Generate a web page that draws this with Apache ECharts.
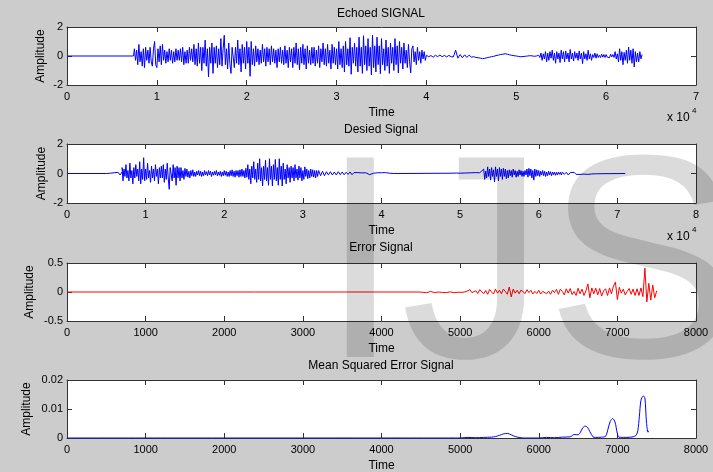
<!DOCTYPE html>
<html>
<head>
<meta charset="utf-8">
<script src="https://cdn.jsdelivr.net/npm/echarts@6/dist/echarts.min.js"></script>
<style>
html, body { margin: 0; padding: 0; background: #cccccc; }
#chart { width: 713px; height: 472px; }
</style>
</head>
<body>
<div id="chart"></div>
<script>
const FONT = 'Liberation Sans';

// TITLES
const titles = ['Echoed SIGNAL', 'Desied Signal', 'Error Signal', 'Mean Squared Error Signal'];

// ECHOED SIGNAL (time in 10^4 samples)
const echoLeadTime = [0, 0.74];
const echoLeadValue = [0, 0];
// loud part 0.75 .. 3.9875, step 0.0125
const echoLoud = [
    0.5, -0.3, 0.4, -0.6, 0.8, -0.4, 0.3, -0.7, 0.5, -0.8, 0.6, -0.3, 0.4, -0.5, 0.6, -0.4, -0.7, 0.5, 1.0, -0.6,
    -0.8, 0.5, -0.4, 0.7, -0.6, 0.8, -0.3, 0.4, -0.5, 0.3, -0.4, 0.5, -0.3, 0.4, -0.5, 0.3, -0.4, 0.5, -0.3, 0.4,
    -0.3, 0.5, -0.4, 0.6, -0.6, 0.3, -0.5, 0.4, -0.5, 0.6, -0.3, 0.5, -0.4, 0.8, -0.6, 0.5, -0.7, 0.9, -0.5, 0.6,
    -1.0, 0.6, -0.5, 1.1, -0.7, 0.5, -1.45, 0.6, -0.5, 0.9, -1.2, 0.6, -0.5, 0.7, -0.8, 0.5, -0.6, 1.2, -0.7, 0.5,
    1.43, -0.6, 0.5, -0.9, 0.9, -0.5, -1.2, 0.6, 0.5, -0.8, 0.6, -0.5, 1.1, -0.6, 0.5, -1.1, 0.8, -0.5, 0.6, -0.9,
    1.0, -0.5, 0.6, -1.4, 1.0, -0.6, 0.5, -0.7, 0.7, -0.4, 0.5, -0.6, 0.4, -0.5, 0.8, -0.4, 0.5, -0.7, 0.6, -0.4,
    0.5, -0.6, 0.7, -0.4, 0.5, -0.5, 0.4, -0.8, 0.5, -0.4, 0.6, -0.5, 0.4, -0.6, 0.7, -0.5, 0.4, -0.8, 0.6, -0.4,
    0.5, -0.8, 0.6, -0.5, 0.9, -0.6, 0.5, -0.95, 0.6, -0.5, 0.8, -0.6, 0.5, -0.9, 0.7, -0.5, 0.4, -0.6, 0.6, -0.5,
    0.6, -0.7, 0.4, -0.5, 0.7, -0.8, 0.5, -0.4, 0.9, -0.6, 0.5, -0.7, 0.8, -0.5, 0.4, -0.9, 0.8, -0.5, 0.6, -0.6,
    0.5, -0.9, 1.0, -0.6, 0.5, -0.8, 0.7, -1.1, 1.0, -0.6, 0.5, -0.7, 1.26, -1.26, 0.6, -0.5, 0.9, -0.7, 0.6, -1.1,
    1.3, -0.7, 0.6, -1.2, 1.4, -0.6, 0.7, -1.0, 1.2, -0.7, 0.6, -1.3, 1.43, -0.8, 0.7, -1.1, 1.3, -0.6, 0.7, -1.22,
    1.2, -0.6, 0.5, -1.0, 1.1, -0.7, 0.6, -1.2, 0.9, -0.5, 0.6, -1.0, 1.2, -0.6, 0.7, -1.17, 1.0, -0.5, 0.6, -0.9,
    0.9, -0.5, 0.4, -0.8, 0.8, -0.4, -1.17, 0.5, 0.7, -0.4, 0.3, -0.6, 0.6, -0.3, 0.3, -0.5, 0.4, -0.2, 0.3, -0.3
];
// quiet part 4.0 .. 5.225, step 0.025
const echoQuiet = [
    0.05, -0.05, 0.03, -0.08, 0.05, -0.04, 0.06, -0.05, 0.04, -0.06,
    0.04, -0.05, -0.06, 0.4, -0.15, 0.1, -0.12, 0.08, -0.1, 0.06,
    -0.08, -0.05, -0.1, -0.12, -0.15, -0.18, -0.16, -0.12, -0.08, -0.05,
    -0.02, 0.03, 0.06, 0.1, 0.12, 0.16, 0.12, 0.08, 0.05, 0.02,
    0.0, -0.03, -0.05, -0.04, -0.02, 0.0, 0.02, 0.01, -0.02, 0.0
];
// late bursts 5.25 .. 6.4, step 0.0125
const echoLate = [
    0.05, -0.1, 0.2, -0.3, 0.15, -0.2, 0.3, -0.4, 0.2, -0.3, 0.3, -0.15, 0.4, -0.3, 0.2, -0.5, 0.3, -0.2, 0.2, -0.45,
    0.4, -0.2, 0.3, -0.4, 0.35, -0.2, 0.2, -0.4, 0.45, -0.2, 0.2, -0.35, 0.3, -0.15, 0.2, -0.3, 0.35, -0.2, 0.2, -0.53,
    0.3, -0.2, 0.15, -0.3, 0.4, -0.2, 0.15, -0.3, 0.1, -0.1, 0.2, -0.15, 0.15, -0.1, 0.05, -0.1, 0.12, -0.08, 0.1, -0.1,
    0.1, -0.08, 0.05, -0.12, 0.12, -0.06, 0.1, -0.1, 0.3, -0.2, 0.15, -0.4, 0.5, -0.3, 0.3, -0.6, 0.25, -0.3, 0.4, -0.5,
    0.62, -0.3, 0.4, -0.5, 0.5, -0.76, 0.3, -0.4, 0.2, -0.4, 0.3, -0.2, 0.1
];

// DESIRED SIGNAL (time in 10^4 samples)
const desiredOnset = [0.5, -0.03, 0.02, -0.03, 0.05, -0.05, 0.08, -0.1, 0.1, -0.12];  // first entry is the start time (step 0.025)
const desiredLoud = [  // 0.7 .. 3.1875, step 0.0125
    0.4, -0.5, 0.3, -0.2, 0.6, -0.3, 0.2, -0.5, 0.7, -0.3, 0.2, -0.7, 0.4, -0.3, 0.6, -0.2, 0.3, -0.5, 0.8, -0.7,
    0.3, -0.4, 1.07, -0.5, 0.3, -0.4, 0.7, -0.3, 0.2, -0.6, 0.5, -0.3, 0.3, -0.5, 0.6, -0.2, 0.3, -0.7, 0.4, -0.3,
    0.5, -0.3, 0.6, -0.6, 0.3, -0.4, 0.7, -0.3, -1.07, 0.4, 0.3, -0.5, 0.6, -0.3, 0.4, -0.8, 0.5, -0.3, 0.4, -0.5,
    0.4, -0.3, 0.2, -0.4, 0.35, -0.2, 0.3, -0.25, 0.15, -0.3, 0.2, -0.15, 0.25, -0.2, 0.1, -0.2, 0.15, -0.1, 0.2, -0.15,
    0.15, -0.2, 0.1, -0.15, 0.2, -0.1, 0.12, -0.15, 0.2, -0.1, 0.15, -0.2, 0.1, -0.12, 0.15, -0.1, 0.2, -0.15, 0.1, -0.12,
    0.15, -0.2, 0.1, -0.15, 0.2, -0.12, 0.15, -0.2, 0.1, -0.2, 0.2, -0.15, 0.25, -0.2, 0.15, -0.25, 0.2, -0.15, 0.2, -0.25,
    0.25, -0.2, 0.3, -0.2, 0.2, -0.3, 0.35, -0.25, 0.6, -0.4, 0.3, -0.7, 0.5, -0.3, 0.8, -0.4, 0.3, -0.6, 0.7, -0.4,
    1.0, -0.5, 0.4, -0.85, 0.5, -0.4, 0.9, -0.5, 0.4, -0.8, 1.0, -0.4, 0.5, -0.85, 0.6, -0.4, 0.95, -0.5, 0.4, -0.8,
    1.0, -0.4, 0.5, -0.85, 0.7, -0.4, 0.3, -0.7, 0.6, -0.3, 0.4, -0.6, 0.5, -0.3, 0.4, -0.5, 0.6, -0.3, 0.3, -0.45,
    0.5, -0.3, 0.4, -0.5, 0.2, -0.4, 0.45, -0.2, 0.3, -0.35, 0.2, -0.3, 0.3, -0.2, 0.25, -0.25, 0.2, -0.3, 0.2, -0.2
];
const desiredTail = [  // 3.2 .. 4.225, step 0.025
    0.2, -0.15, 0.15, -0.15, 0.12, -0.1, 0.12, -0.1, 0.1, -0.1,
    0.12, -0.08, 0.1, -0.08, 0.08, -0.06, 0.1, -0.08, 0.06, -0.05,
    0.06, -0.05, 0.04, -0.04, 0.05, -0.06, -0.08, -0.04, 0.02, 0.04,
    0.05, 0.03, 0.05, 0.04, 0.06, 0.04, 0.02, 0.0, 0.0, 0.0,
    0.0, 0.0
];
const desiredQuietB = [  // 4.9 .. 5.275, step 0.025
    0.02, -0.02, 0.03, -0.03, 0.02, -0.04, 0.03, -0.05, 0.04, -0.03, 0.05, -0.04, 0.06, -0.05, 0.05, -0.06
];
const desiredBurstB = [  // 5.3 .. 6.2875, step 0.0125
    0.3, -0.4, 0.15, -0.3, 0.45, -0.2, 0.3, -0.45, 0.4, -0.2, 0.25, -0.57, 0.45, -0.2, 0.3, -0.5, 0.4, -0.2, 0.3, -0.4,
    0.35, -0.2, 0.3, -0.35, 0.2, -0.3, 0.25, -0.15, 0.2, -0.25, 0.3, -0.1, 0.2, -0.25, 0.15, -0.2, 0.25, -0.1, 0.2, -0.2,
    0.15, -0.2, 0.2, -0.1, 0.3, -0.25, 0.35, -0.15, 0.3, -0.3, 0.2, -0.45, 0.3, -0.2, 0.25, -0.15, 0.2, -0.2, 0.15, -0.1,
    0.2, -0.15, 0.15, -0.2, 0.1, -0.15, 0.15, -0.1, 0.12, -0.15, 0.1, -0.08, 0.1, -0.12, 0.08, -0.1, 0.1, -0.06, 0.08, -0.1
];
const desiredTailB = [  // 6.3 .. 6.75, step 0.025
    0.1, -0.06, 0.08, -0.1, 0.06, -0.05, 0.08, -0.06, 0.05, -0.06, 0.06, -0.04, 0.05, -0.06, 0.04, -0.03, 0.03, -0.02, 0.0
];
const desiredEndTime = 7.1;

// ERROR SIGNAL
const errorQuietTime = [0, 2070, 2080, 2090, 2370, 2380, 2390, 2400, 3170, 3180, 3190, 4475];
const errorQuietValue = [0, 0, 0.012, 0, 0, 0.01, -0.005, 0, 0, -0.008, 0, 0];
const errorStart = 4500;
const errorStep = 25;
const errorValues = [
    0.01, -0.005, 0.002, -0.012, 0.006, 0.01, -0.004, -0.01, 0.008, 0.0,
    0.01, -0.008, 0.004, -0.01, 0.012, 0.002, -0.01, -0.012, 0.015, -0.004,
    0.012, -0.006, 0.02, 0.005, -0.015, 0.04, -0.01, -0.03, 0.02, -0.025,
    0.04, 0.01, -0.03, 0.025, -0.04, 0.045, 0.0, -0.035, 0.05, -0.02,
    0.03, -0.03, 0.05, 0.01, -0.04, 0.086, -0.086, 0.05, -0.02, 0.03,
    -0.03, 0.035, 0.005, -0.025, 0.04, -0.01, 0.03, -0.035, 0.01, -0.025,
    0.03, -0.035, 0.01, 0.04, -0.03, 0.015, -0.04, 0.03, -0.01, 0.045,
    -0.04, 0.05, 0.01, -0.05, 0.055, -0.02, 0.06, -0.045, 0.01, -0.06,
    0.065, -0.03, 0.05, -0.06, 0.02, 0.14, -0.1, 0.07, -0.03, 0.065,
    -0.05, 0.06, -0.07, 0.02, 0.055, -0.06, 0.07, -0.03, 0.1, 0.17,
    -0.13, 0.08, -0.02, 0.05, -0.05, 0.01, 0.06, -0.04, 0.05, -0.06,
    0.055, -0.06, 0.07, -0.08, 0.41, -0.17, 0.15, -0.14, 0.12, -0.1,
    0.02
];

// MEAN SQUARED ERROR
const mseTime = [0, 5000, 5100, 5200, 5300, 5400, 5450, 5500, 5550, 5600, 5650, 5700, 5750, 5800,
    6000, 6100, 6200, 6300, 6400, 6450, 6500, 6530, 6560, 6590, 6620, 6650, 6690, 6720,
    6800, 6850, 6880, 6910, 6940, 6970, 7000, 7020, 7100, 7200, 7240, 7260, 7280, 7300,
    7330, 7350, 7370, 7390, 7400];
const mseValue = [0, 0, 0.0002, 0.0001, 0.0002, 0.0003, 0.0005, 0.0009, 0.0014, 0.0016, 0.0011, 0.0005, 0.0002, 0,
    0, 0.0002, 0.0001, 0.0003, 0.0004, 0.0012, 0.0011, 0.002, 0.0035, 0.0041, 0.0037, 0.0022, 0.0004, 0.0002,
    0.0003, 0.0006, 0.003, 0.0058, 0.0067, 0.0055, 0.0015, 0.0003, 0.0002, 0.0004, 0.001, 0.0025, 0.0075, 0.013,
    0.0145, 0.0138, 0.0055, 0.002, 0.0025];

function wave(start, step, values) {
    return values.map((v, i) => [start + i * step, v]);
}
function pairs(xs, ys) {
    return xs.map((x, i) => [x, ys[i]]);
}

const echoData = pairs(echoLeadTime, echoLeadValue)
    .concat(wave(0.75, 0.0125, echoLoud))
    .concat(wave(4.0, 0.025, echoQuiet))
    .concat(wave(5.25, 0.0125, echoLate));
const desiredData = [[0, 0], [desiredOnset[0], 0]]
    .concat(wave(0.525, 0.025, desiredOnset.slice(1)))
    .concat(wave(0.7, 0.0125, desiredLoud))
    .concat(wave(3.2, 0.025, desiredTail))
    .concat(wave(4.9, 0.025, desiredQuietB))
    .concat(wave(5.3, 0.0125, desiredBurstB))
    .concat(wave(6.3, 0.025, desiredTailB))
    .concat([[desiredEndTime, 0]]);
const errorData = pairs(errorQuietTime, errorQuietValue)
    .concat(wave(errorStart, errorStep, errorValues));
const mseData = pairs(mseTime, mseValue);

// PANEL LAYOUT
const panels = [
    { top: 27, height: 58, xMax: 7, xInt: 1, yMin: -2, yMax: 2, yInt: 2, nameGap: 20, data: echoData, color: '#0000ff' },
    { top: 144, height: 59, xMax: 8, xInt: 1, yMin: -2, yMax: 2, yInt: 2, nameGap: 19, data: desiredData, color: '#0000ff' },
    { top: 263, height: 58, xMax: 8000, xInt: 1000, yMin: -0.5, yMax: 0.5, yInt: 0.5, nameGap: 31, data: errorData, color: '#ff0000' },
    { top: 380, height: 58, xMax: 8000, xInt: 1000, yMin: 0, yMax: 0.02, yInt: 0.01, nameGap: 34, data: mseData, color: '#0000ff', smooth: 0.3 }
];
const titleTops = [8, 124, 242, 360];

const axisColor = '#333333';
const labelStyle = { color: '#000', fontSize: 11, fontFamily: FONT };

const grid = [];
const xAxis = [];
const yAxis = [];
const series = [];

panels.forEach((p, i) => {
    grid.push({
        left: 67, top: p.top, width: 629, height: p.height,
        show: true, backgroundColor: '#ffffff', borderWidth: 0,
        outerBoundsMode: 'none'
    });
    ['bottom', 'top'].forEach(pos => {
        xAxis.push({
            type: 'value', gridIndex: i, position: pos,
            min: 0, max: p.xMax, interval: p.xInt,
            name: pos === 'bottom' ? 'Time' : '',
            nameLocation: 'middle', nameGap: 22, nameMoveOverlap: false,
            nameTextStyle: { color: '#000', fontSize: 12, fontFamily: FONT },
            axisLine: { onZero: false, lineStyle: { color: axisColor, width: 1 } },
            axisTick: { inside: true, length: 5, lineStyle: { color: axisColor } },
            axisLabel: Object.assign({ show: pos === 'bottom', margin: 6, formatter: v => String(v) }, labelStyle),
            splitLine: { show: false }
        });
    });
    ['left', 'right'].forEach(pos => {
        yAxis.push({
            type: 'value', gridIndex: i, position: pos,
            min: p.yMin, max: p.yMax, interval: p.yInt,
            name: pos === 'left' ? 'Amplitude' : '',
            nameLocation: 'middle', nameGap: p.nameGap, nameRotate: 90, nameMoveOverlap: false,
            nameTextStyle: { color: '#000', fontSize: 12, fontFamily: FONT },
            axisLine: { onZero: false, lineStyle: { color: axisColor, width: 1 } },
            axisTick: { inside: true, length: 5, lineStyle: { color: axisColor } },
            axisLabel: Object.assign({ show: pos === 'left', margin: 4, formatter: v => String(v) }, labelStyle),
            splitLine: { show: false }
        });
    });
    series.push({
        type: 'line',
        xAxisIndex: 2 * i,
        yAxisIndex: 2 * i,
        data: p.data,
        showSymbol: false,
        smooth: p.smooth || false,
        lineStyle: { color: p.color, width: 1 },
        itemStyle: { color: p.color },
        z: 3
    });
});

const chart = echarts.init(document.getElementById('chart'));
chart.setOption({
    animation: false,
    backgroundColor: '#cccccc',
    textStyle: { fontFamily: FONT },
    title: titles.map((t, i) => ({
        text: t, left: 381, top: titleTops[i], textAlign: 'center', padding: 0,
        textStyle: { fontSize: 12, fontWeight: 'normal', color: '#000', fontFamily: FONT }
    })),
    grid: grid,
    xAxis: xAxis,
    yAxis: yAxis,
    series: series,
    graphic: [
        { type: 'text', x: 667, y: 118, style: { text: 'x 10', fill: '#000', font: '12px ' + FONT, verticalAlign: 'middle' } },
        { type: 'text', x: 692, y: 111, style: { text: '4', fill: '#000', font: '8px ' + FONT, verticalAlign: 'middle' } },
        { type: 'text', x: 667, y: 237, style: { text: 'x 10', fill: '#000', font: '12px ' + FONT, verticalAlign: 'middle' } },
        { type: 'text', x: 692, y: 230, style: { text: '4', fill: '#000', font: '8px ' + FONT, verticalAlign: 'middle' } },
        // watermark
        { type: 'text', x: 320, y: 277, z: 100, silent: true,
          style: { text: 'IJS', fill: 'rgba(0,0,0,0.14)', font: '290px ' + FONT, verticalAlign: 'middle', align: 'left' } }
    ]
});
</script>
</body>
</html>
